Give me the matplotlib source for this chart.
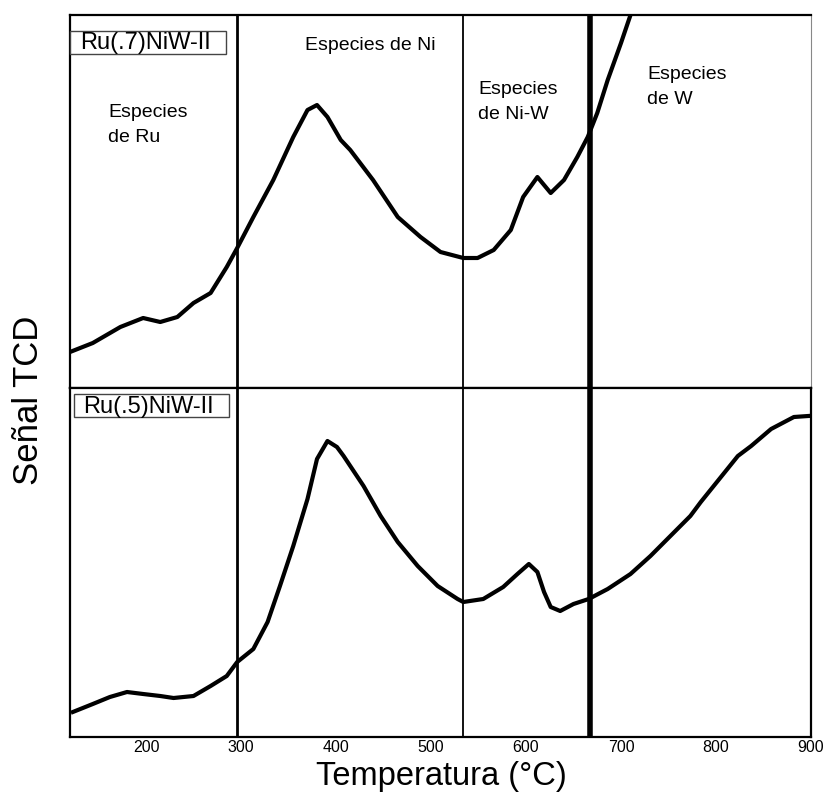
import matplotlib
matplotlib.use("Agg")
import matplotlib.pyplot as plt
from matplotlib.patches import Rectangle

plt.rcParams['font.family'] = ['Liberation Sans', 'DejaVu Sans']

# ---- data (temperature in °C, TCD signal in arbitrary units) ----
temp_top = [120, 144, 173, 197, 215, 233, 250, 268, 285, 296, 313, 334, 355, 370,
            380, 391, 405, 415, 439, 465, 489, 510, 534, 549, 566, 584, 597, 612,
            626, 640, 654, 665, 675, 686, 700, 710, 721]
sig_top = [36, 45, 61, 70, 66, 71, 85, 95, 121, 140, 171, 208, 251, 278,
           283, 271, 248, 238, 208, 171, 151, 136, 130, 130, 138, 158, 191, 211,
           195, 208, 231, 251, 275, 308, 345, 373, 400]

temp_bot = [123, 144, 162, 180, 197, 215, 229, 250, 268, 285, 296, 313, 328, 341,
            355, 370, 380, 391, 401, 408, 429, 447, 465, 486, 507, 528, 534, 555,
            576, 591, 603, 612, 619, 626, 636, 650, 666, 686, 710, 731, 773, 784,
            823, 837, 858, 882, 897]
sig_bot = [25, 33, 40, 45, 43, 41, 39, 41, 51, 61, 75, 88, 115, 151,
           191, 238, 278, 296, 290, 281, 251, 221, 195, 171, 151, 138, 135, 138,
           150, 163, 173, 165, 145, 130, 126, 133, 138, 148, 163, 181, 221, 235,
           281, 291, 308, 320, 321]

region_lines = [296, 534, 667]
region_widths = [2.0, 1.3, 4.0]
xticks = [200, 300, 400, 500, 600, 700, 800, 900]
sample_top = "Ru(.7)NiW-II"
sample_bot = "Ru(.5)NiW-II"

W, H = 830, 793
fig = plt.figure(figsize=(W / 100, H / 100), dpi=100)

def frac(x0, y0, x1, y1):
    return [x0 / W, 1 - y1 / H, (x1 - x0) / W, (y1 - y0) / H]

ax1 = fig.add_axes(frac(70, 15, 811, 388))
ax2 = fig.add_axes(frac(70, 388, 811, 737))

for ax in (ax1, ax2):
    ax.set_xlim(120, 900)
    ax.set_yticks([])
    for xv, lw in zip(region_lines, region_widths):
        ax.axvline(xv, color='black', lw=lw, zorder=3)
    for s in ax.spines.values():
        s.set_linewidth(1.6)
        s.set_color('black')

ax1.set_ylim(0, 373)
ax2.set_ylim(0, 349)
ax1.spines['right'].set_color('#888888')
ax1.spines['right'].set_linewidth(0.8)
ax1.set_xticks([])

ax1.plot(temp_top, sig_top, color='black', lw=3.0, zorder=4)
ax2.plot(temp_bot, sig_bot, color='black', lw=3.0, zorder=4)

ax2.set_xticks(xticks)
ax2.set_xticklabels([str(t) for t in xticks], fontsize=11.5)
ax2.tick_params(axis='x', length=0, pad=2.5)

def ftext(px, py, s, **kw):
    return fig.text(px / W, 1 - py / H, s, **kw)

ftext(441, 785, "Temperatura (°C)", fontsize=23.5, ha='center', va='baseline')
ftext(28, 400, "Señal TCD", fontsize=25, rotation=90, ha='center', va='center')

def label_box(x0, y0, x1, y1, tx, s):
    fig.patches.append(Rectangle((x0 / W, 1 - y1 / H), (x1 - x0) / W, (y1 - y0) / H,
                                 transform=fig.transFigure, fc='white',
                                 ec='#444444', lw=1.0, zorder=5))
    ftext(tx, (y0 + y1) / 2 + 1, s, fontsize=17, ha='left', va='center', zorder=6)

label_box(70, 31, 226, 54, 80, sample_top)
label_box(74, 394, 229, 417, 83, sample_bot)

ann = dict(fontsize=14, ha='left', va='center', linespacing=1.6)
ftext(108, 125, "Especies\nde Ru", **ann)
ftext(305, 45, "Especies de Ni", **ann)
ftext(478, 102, "Especies\nde Ni-W", **ann)
ftext(647, 87, "Especies\nde W", **ann)

fig.savefig("out.png", dpi=100)
